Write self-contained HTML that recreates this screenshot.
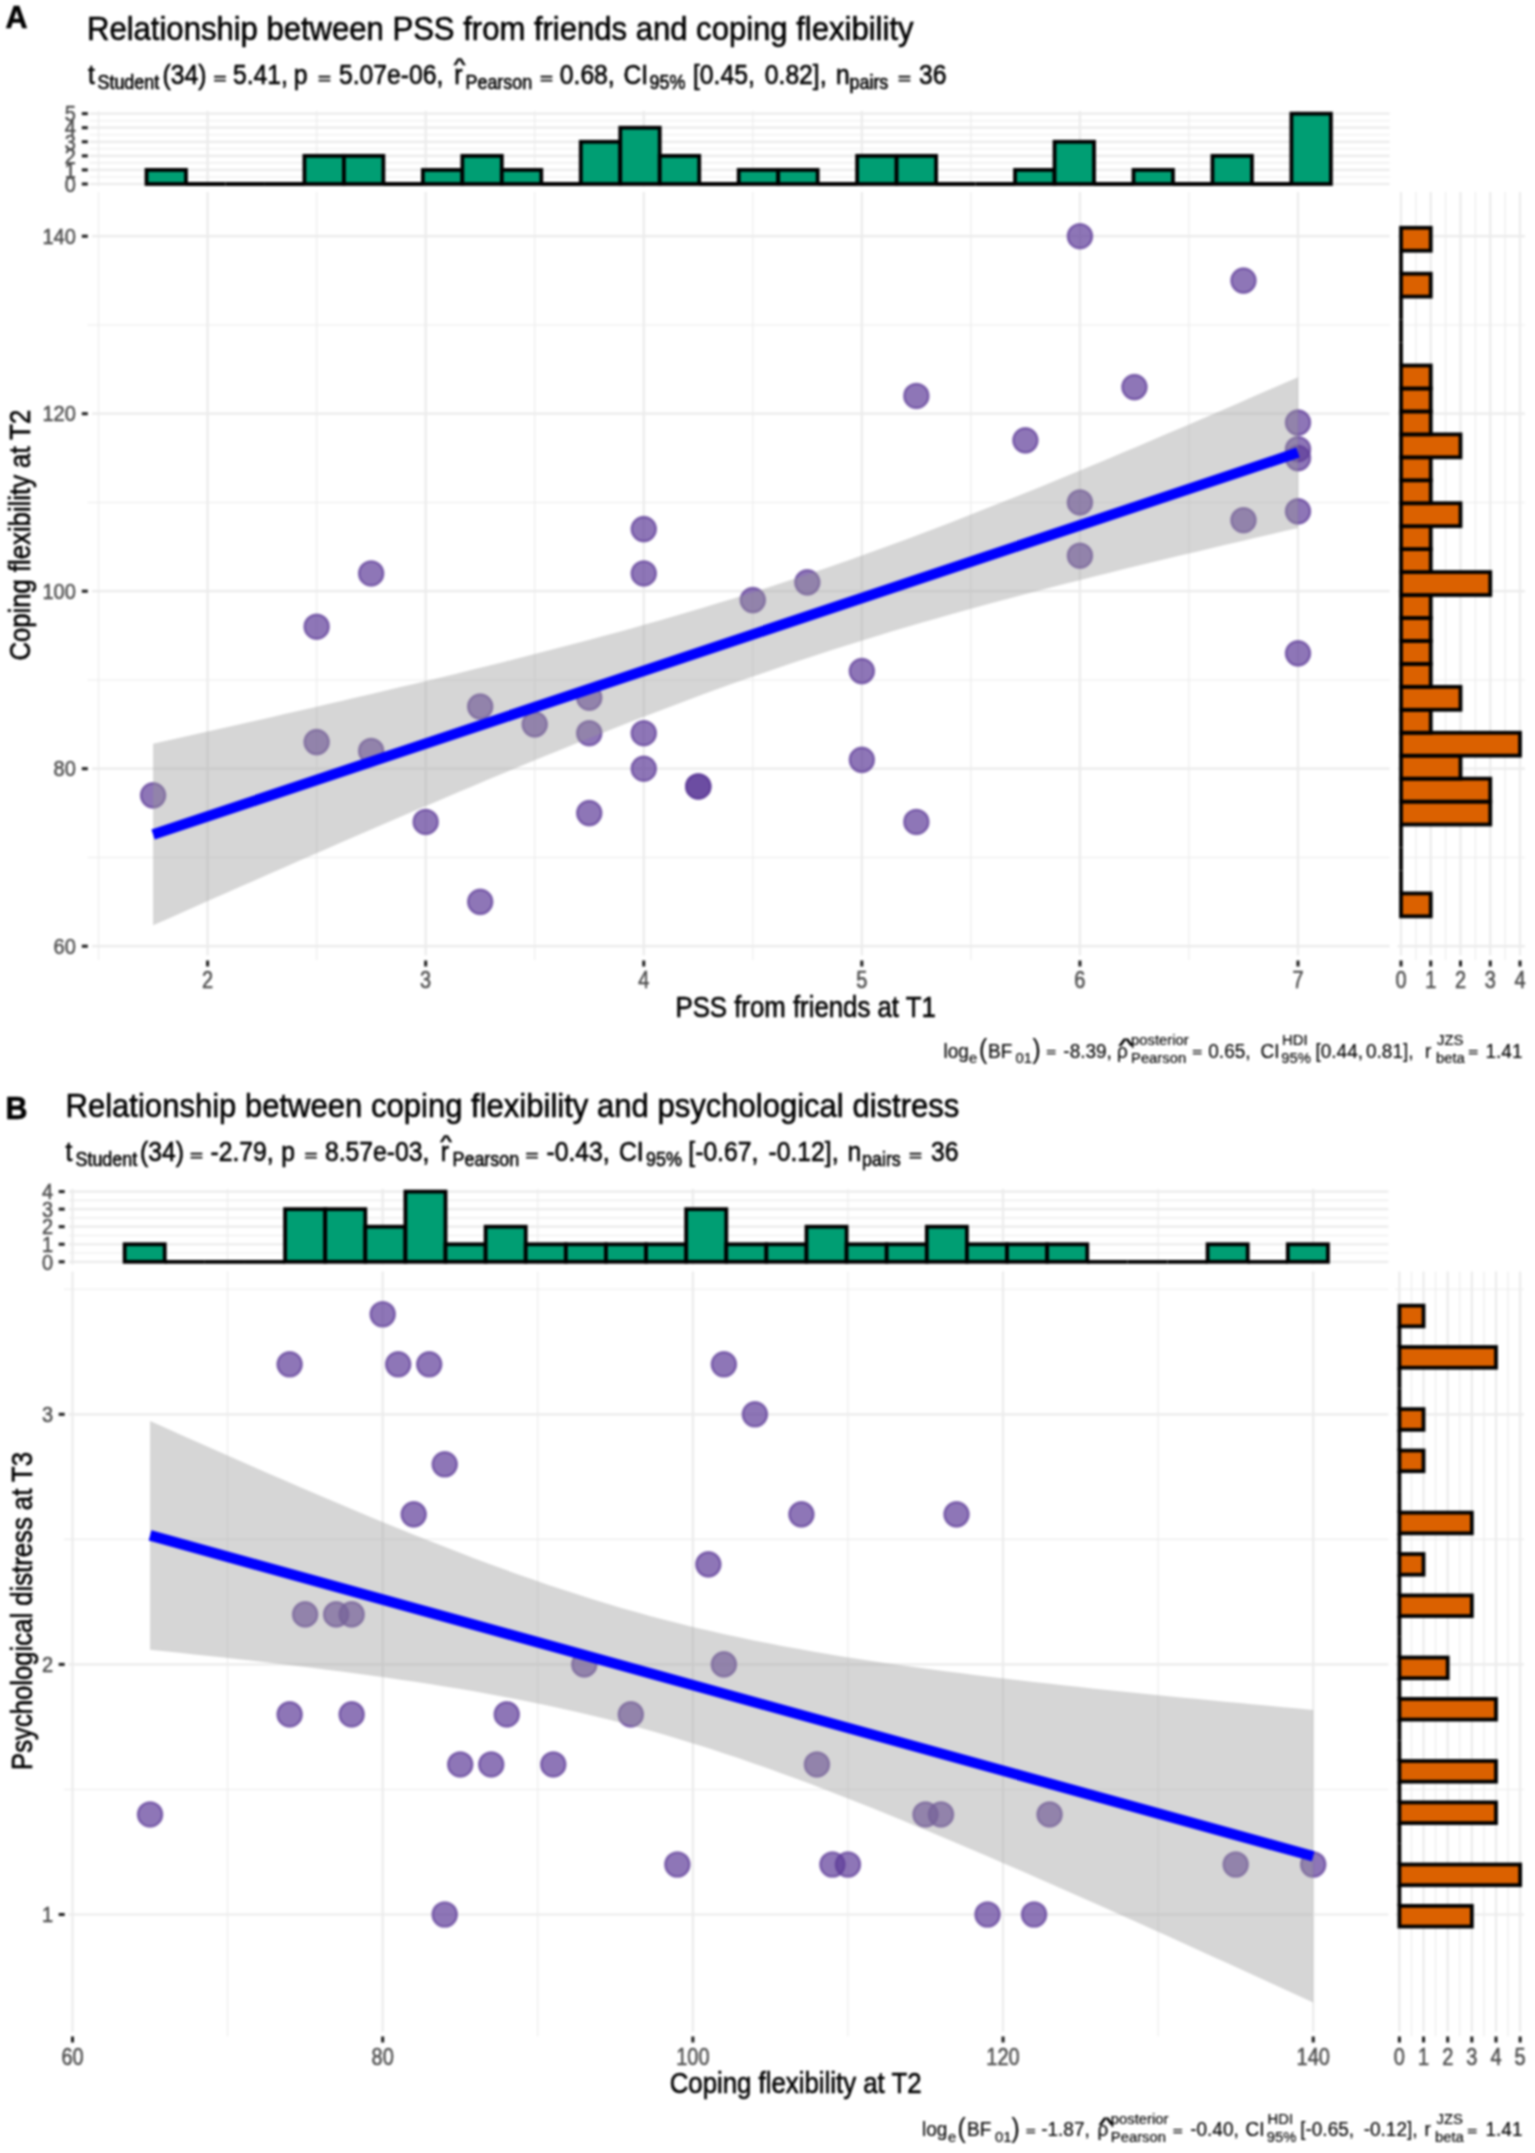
<!DOCTYPE html>
<html lang="en"><head><meta charset="utf-8"><title>Figure</title>
<style>html,body{margin:0;padding:0;background:#fff}#wrap{width:1535px;height:2153px;overflow:hidden;filter:blur(1px)}svg{display:block}text{font-family:"Liberation Sans", Arial, Helvetica, sans-serif}</style>
</head><body>
<div id="wrap"><svg width="1535" height="2153" viewBox="0 0 1535 2153">
<rect width="1535" height="2153" fill="#fff"/>
<g id="fig">
<g stroke="#ebebeb" fill="none">
<line x1="89.5" x2="1389.7" y1="184" y2="184" stroke-width="2.2"/>
<line x1="89.5" x2="1389.7" y1="176.97" y2="176.97" stroke-width="1.1"/>
<line x1="89.5" x2="1389.7" y1="169.93" y2="169.93" stroke-width="2.2"/>
<line x1="89.5" x2="1389.7" y1="162.9" y2="162.9" stroke-width="1.1"/>
<line x1="89.5" x2="1389.7" y1="155.86" y2="155.86" stroke-width="2.2"/>
<line x1="89.5" x2="1389.7" y1="148.82" y2="148.82" stroke-width="1.1"/>
<line x1="89.5" x2="1389.7" y1="141.79" y2="141.79" stroke-width="2.2"/>
<line x1="89.5" x2="1389.7" y1="134.75" y2="134.75" stroke-width="1.1"/>
<line x1="89.5" x2="1389.7" y1="127.72" y2="127.72" stroke-width="2.2"/>
<line x1="89.5" x2="1389.7" y1="120.69" y2="120.69" stroke-width="1.1"/>
<line x1="89.5" x2="1389.7" y1="113.65" y2="113.65" stroke-width="2.2"/>
<line x1="98.56" x2="98.56" y1="111" y2="186.6" stroke-width="1.1"/>
<line x1="98.56" x2="98.56" y1="192" y2="960" stroke-width="1.1"/>
<line x1="207.6" x2="207.6" y1="111" y2="186.6" stroke-width="2.2"/>
<line x1="207.6" x2="207.6" y1="192" y2="955.5" stroke-width="2.2"/>
<line x1="316.64" x2="316.64" y1="111" y2="186.6" stroke-width="1.1"/>
<line x1="316.64" x2="316.64" y1="192" y2="960" stroke-width="1.1"/>
<line x1="425.68" x2="425.68" y1="111" y2="186.6" stroke-width="2.2"/>
<line x1="425.68" x2="425.68" y1="192" y2="955.5" stroke-width="2.2"/>
<line x1="534.72" x2="534.72" y1="111" y2="186.6" stroke-width="1.1"/>
<line x1="534.72" x2="534.72" y1="192" y2="960" stroke-width="1.1"/>
<line x1="643.76" x2="643.76" y1="111" y2="186.6" stroke-width="2.2"/>
<line x1="643.76" x2="643.76" y1="192" y2="955.5" stroke-width="2.2"/>
<line x1="752.8" x2="752.8" y1="111" y2="186.6" stroke-width="1.1"/>
<line x1="752.8" x2="752.8" y1="192" y2="960" stroke-width="1.1"/>
<line x1="861.84" x2="861.84" y1="111" y2="186.6" stroke-width="2.2"/>
<line x1="861.84" x2="861.84" y1="192" y2="955.5" stroke-width="2.2"/>
<line x1="970.88" x2="970.88" y1="111" y2="186.6" stroke-width="1.1"/>
<line x1="970.88" x2="970.88" y1="192" y2="960" stroke-width="1.1"/>
<line x1="1079.92" x2="1079.92" y1="111" y2="186.6" stroke-width="2.2"/>
<line x1="1079.92" x2="1079.92" y1="192" y2="955.5" stroke-width="2.2"/>
<line x1="1188.96" x2="1188.96" y1="111" y2="186.6" stroke-width="1.1"/>
<line x1="1188.96" x2="1188.96" y1="192" y2="960" stroke-width="1.1"/>
<line x1="1298" x2="1298" y1="111" y2="186.6" stroke-width="2.2"/>
<line x1="1298" x2="1298" y1="192" y2="955.5" stroke-width="2.2"/>
<line x1="92" x2="1389.7" y1="946.2" y2="946.2" stroke-width="2.2"/>
<line x1="1397.5" x2="1525" y1="946.2" y2="946.2" stroke-width="2.2"/>
<line x1="87.5" x2="1389.7" y1="857.45" y2="857.45" stroke-width="1.1"/>
<line x1="1397.5" x2="1525" y1="857.45" y2="857.45" stroke-width="1.1"/>
<line x1="92" x2="1389.7" y1="768.7" y2="768.7" stroke-width="2.2"/>
<line x1="1397.5" x2="1525" y1="768.7" y2="768.7" stroke-width="2.2"/>
<line x1="87.5" x2="1389.7" y1="679.95" y2="679.95" stroke-width="1.1"/>
<line x1="1397.5" x2="1525" y1="679.95" y2="679.95" stroke-width="1.1"/>
<line x1="92" x2="1389.7" y1="591.2" y2="591.2" stroke-width="2.2"/>
<line x1="1397.5" x2="1525" y1="591.2" y2="591.2" stroke-width="2.2"/>
<line x1="87.5" x2="1389.7" y1="502.45" y2="502.45" stroke-width="1.1"/>
<line x1="1397.5" x2="1525" y1="502.45" y2="502.45" stroke-width="1.1"/>
<line x1="92" x2="1389.7" y1="413.7" y2="413.7" stroke-width="2.2"/>
<line x1="1397.5" x2="1525" y1="413.7" y2="413.7" stroke-width="2.2"/>
<line x1="87.5" x2="1389.7" y1="324.95" y2="324.95" stroke-width="1.1"/>
<line x1="1397.5" x2="1525" y1="324.95" y2="324.95" stroke-width="1.1"/>
<line x1="92" x2="1389.7" y1="236.2" y2="236.2" stroke-width="2.2"/>
<line x1="1397.5" x2="1525" y1="236.2" y2="236.2" stroke-width="2.2"/>
<line x1="1401" x2="1401" y1="192" y2="955.5" stroke-width="2.2"/>
<line x1="1415.88" x2="1415.88" y1="192" y2="960" stroke-width="1.1"/>
<line x1="1430.75" x2="1430.75" y1="192" y2="955.5" stroke-width="2.2"/>
<line x1="1445.62" x2="1445.62" y1="192" y2="960" stroke-width="1.1"/>
<line x1="1460.5" x2="1460.5" y1="192" y2="955.5" stroke-width="2.2"/>
<line x1="1475.38" x2="1475.38" y1="192" y2="960" stroke-width="1.1"/>
<line x1="1490.25" x2="1490.25" y1="192" y2="955.5" stroke-width="2.2"/>
<line x1="1505.12" x2="1505.12" y1="192" y2="960" stroke-width="1.1"/>
<line x1="1520" x2="1520" y1="192" y2="955.5" stroke-width="2.2"/>
</g>
<g fill="#5E3C99" fill-opacity="0.7" stroke="#5E3C99" stroke-opacity="0.7" stroke-width="2.4">
<circle cx="153.08" cy="795.33" r="12.1"/>
<circle cx="316.64" cy="626.7" r="12.1"/>
<circle cx="316.64" cy="742.08" r="12.1"/>
<circle cx="371.16" cy="573.45" r="12.1"/>
<circle cx="371.16" cy="750.95" r="12.1"/>
<circle cx="425.68" cy="821.95" r="12.1"/>
<circle cx="480.2" cy="706.58" r="12.1"/>
<circle cx="480.2" cy="901.83" r="12.1"/>
<circle cx="534.72" cy="724.33" r="12.1"/>
<circle cx="589.24" cy="697.7" r="12.1"/>
<circle cx="589.24" cy="733.2" r="12.1"/>
<circle cx="589.24" cy="813.08" r="12.1"/>
<circle cx="643.76" cy="529.08" r="12.1"/>
<circle cx="643.76" cy="573.45" r="12.1"/>
<circle cx="643.76" cy="733.2" r="12.1"/>
<circle cx="643.76" cy="768.7" r="12.1"/>
<circle cx="698.28" cy="786.45" r="12.1"/>
<circle cx="698.28" cy="786.45" r="12.1"/>
<circle cx="752.8" cy="600.08" r="12.1"/>
<circle cx="807.32" cy="582.33" r="12.1"/>
<circle cx="861.84" cy="671.08" r="12.1"/>
<circle cx="861.84" cy="759.83" r="12.1"/>
<circle cx="916.36" cy="395.95" r="12.1"/>
<circle cx="916.36" cy="821.95" r="12.1"/>
<circle cx="1025.4" cy="440.33" r="12.1"/>
<circle cx="1079.92" cy="236.2" r="12.1"/>
<circle cx="1079.92" cy="502.45" r="12.1"/>
<circle cx="1079.92" cy="555.7" r="12.1"/>
<circle cx="1134.44" cy="387.08" r="12.1"/>
<circle cx="1243.48" cy="280.58" r="12.1"/>
<circle cx="1243.48" cy="520.2" r="12.1"/>
<circle cx="1298" cy="422.58" r="12.1"/>
<circle cx="1298" cy="449.2" r="12.1"/>
<circle cx="1298" cy="458.08" r="12.1"/>
<circle cx="1298" cy="511.33" r="12.1"/>
<circle cx="1298" cy="653.33" r="12.1"/>
</g>
<polygon points="153.08,743.68 167.57,740.46 182.07,737.22 196.56,733.98 211.05,730.73 225.54,727.47 240.04,724.2 254.53,720.92 269.02,717.63 283.51,714.32 298.01,711.01 312.5,707.68 326.99,704.33 341.48,700.97 355.98,697.59 370.47,694.2 384.96,690.79 399.46,687.36 413.95,683.9 428.44,680.43 442.93,676.93 457.43,673.4 471.92,669.85 486.41,666.27 500.9,662.66 515.4,659.02 529.89,655.34 544.38,651.62 558.87,647.86 573.37,644.06 587.86,640.22 602.35,636.32 616.85,632.38 631.34,628.38 645.83,624.32 660.32,620.21 674.82,616.03 689.31,611.79 703.8,607.48 718.29,603.09 732.79,598.64 747.28,594.11 761.77,589.5 776.26,584.82 790.76,580.06 805.25,575.22 819.74,570.29 834.23,565.3 848.73,560.22 863.22,555.07 877.71,549.84 892.21,544.54 906.7,539.17 921.19,533.73 935.68,528.23 950.18,522.66 964.67,517.04 979.16,511.36 993.65,505.62 1008.15,499.84 1022.64,494 1037.13,488.13 1051.62,482.21 1066.12,476.25 1080.61,470.25 1095.1,464.22 1109.6,458.16 1124.09,452.07 1138.58,445.94 1153.07,439.79 1167.57,433.62 1182.06,427.42 1196.55,421.2 1211.04,414.96 1225.54,408.7 1240.03,402.42 1254.52,396.12 1269.01,389.81 1283.51,383.48 1298,377.14 1298,528 1283.51,531.33 1269.01,534.67 1254.52,538.03 1240.03,541.4 1225.54,544.79 1211.04,548.2 1196.55,551.63 1182.06,555.08 1167.57,558.55 1153.07,562.04 1138.58,565.56 1124.09,569.11 1109.6,572.69 1095.1,576.29 1080.61,579.93 1066.12,583.6 1051.62,587.31 1037.13,591.06 1022.64,594.86 1008.15,598.69 993.65,602.58 979.16,606.51 964.67,610.5 950.18,614.55 935.68,618.65 921.19,622.82 906.7,627.05 892.21,631.35 877.71,635.72 863.22,640.16 848.73,644.68 834.23,649.27 819.74,653.94 805.25,658.69 790.76,663.51 776.26,668.42 761.77,673.41 747.28,678.47 732.79,683.61 718.29,688.82 703.8,694.11 689.31,699.47 674.82,704.9 660.32,710.39 645.83,715.94 631.34,721.56 616.85,727.23 602.35,732.95 587.86,738.73 573.37,744.55 558.87,750.42 544.38,756.33 529.89,762.29 515.4,768.27 500.9,774.3 486.41,780.36 471.92,786.45 457.43,792.56 442.93,798.71 428.44,804.88 413.95,811.07 399.46,817.29 384.96,823.53 370.47,829.78 355.98,836.06 341.48,842.35 326.99,848.66 312.5,854.99 298.01,861.33 283.51,867.68 269.02,874.04 254.53,880.42 240.04,886.81 225.54,893.21 211.05,899.62 196.56,906.04 182.07,912.46 167.57,918.9 153.08,925.35" fill="#999999" fill-opacity="0.4"/>
<line x1="153.08" y1="834.51" x2="1298" y2="452.57" stroke="#0000FF" stroke-width="10.5"/>
<g fill="#009E73" stroke="#000" stroke-width="3.8" stroke-linejoin="miter">
<rect x="146.5" y="169.93" width="39.48" height="14.07"/>
<line x1="185.98" x2="225.46" y1="184" y2="184"/>
<line x1="225.46" x2="264.94" y1="184" y2="184"/>
<line x1="264.94" x2="304.42" y1="184" y2="184"/>
<rect x="304.42" y="155.86" width="39.48" height="28.14"/>
<rect x="343.9" y="155.86" width="39.48" height="28.14"/>
<line x1="383.38" x2="422.86" y1="184" y2="184"/>
<rect x="422.86" y="169.93" width="39.48" height="14.07"/>
<rect x="462.34" y="155.86" width="39.48" height="28.14"/>
<rect x="501.82" y="169.93" width="39.48" height="14.07"/>
<line x1="541.3" x2="580.78" y1="184" y2="184"/>
<rect x="580.78" y="141.79" width="39.48" height="42.21"/>
<rect x="620.26" y="127.72" width="39.48" height="56.28"/>
<rect x="659.74" y="155.86" width="39.48" height="28.14"/>
<line x1="699.22" x2="738.7" y1="184" y2="184"/>
<rect x="738.7" y="169.93" width="39.48" height="14.07"/>
<rect x="778.18" y="169.93" width="39.48" height="14.07"/>
<line x1="817.66" x2="857.14" y1="184" y2="184"/>
<rect x="857.14" y="155.86" width="39.48" height="28.14"/>
<rect x="896.62" y="155.86" width="39.48" height="28.14"/>
<line x1="936.1" x2="975.58" y1="184" y2="184"/>
<line x1="975.58" x2="1015.06" y1="184" y2="184"/>
<rect x="1015.06" y="169.93" width="39.48" height="14.07"/>
<rect x="1054.54" y="141.79" width="39.48" height="42.21"/>
<line x1="1094.02" x2="1133.5" y1="184" y2="184"/>
<rect x="1133.5" y="169.93" width="39.48" height="14.07"/>
<line x1="1172.98" x2="1212.46" y1="184" y2="184"/>
<rect x="1212.46" y="155.86" width="39.48" height="28.14"/>
<line x1="1251.94" x2="1291.42" y1="184" y2="184"/>
<rect x="1291.42" y="113.65" width="39.48" height="70.35"/>
</g>
<g fill="#DB6100" stroke="#000" stroke-width="3.8" stroke-linejoin="miter">
<rect x="1401" y="893.41" width="29.75" height="22.95"/>
<line x1="1401" x2="1401" y1="870.46" y2="893.41"/>
<line x1="1401" x2="1401" y1="847.5" y2="870.46"/>
<line x1="1401" x2="1401" y1="824.55" y2="847.5"/>
<rect x="1401" y="801.6" width="89.25" height="22.95"/>
<rect x="1401" y="778.65" width="89.25" height="22.95"/>
<rect x="1401" y="755.69" width="59.5" height="22.95"/>
<rect x="1401" y="732.74" width="119" height="22.95"/>
<rect x="1401" y="709.79" width="29.75" height="22.95"/>
<rect x="1401" y="686.84" width="59.5" height="22.95"/>
<rect x="1401" y="663.88" width="29.75" height="22.95"/>
<rect x="1401" y="640.93" width="29.75" height="22.95"/>
<rect x="1401" y="617.98" width="29.75" height="22.95"/>
<rect x="1401" y="595.03" width="29.75" height="22.95"/>
<rect x="1401" y="572.07" width="89.25" height="22.95"/>
<rect x="1401" y="549.12" width="29.75" height="22.95"/>
<rect x="1401" y="526.17" width="29.75" height="22.95"/>
<rect x="1401" y="503.22" width="59.5" height="22.95"/>
<rect x="1401" y="480.26" width="29.75" height="22.95"/>
<rect x="1401" y="457.31" width="29.75" height="22.95"/>
<rect x="1401" y="434.36" width="59.5" height="22.95"/>
<rect x="1401" y="411.4" width="29.75" height="22.95"/>
<rect x="1401" y="388.45" width="29.75" height="22.95"/>
<rect x="1401" y="365.5" width="29.75" height="22.95"/>
<line x1="1401" x2="1401" y1="342.55" y2="365.5"/>
<line x1="1401" x2="1401" y1="319.59" y2="342.55"/>
<line x1="1401" x2="1401" y1="296.64" y2="319.59"/>
<rect x="1401" y="273.69" width="29.75" height="22.95"/>
<line x1="1401" x2="1401" y1="250.74" y2="273.69"/>
<rect x="1401" y="227.78" width="29.75" height="22.95"/>
</g>
<g stroke="#1a1a1a" stroke-width="3">
<line x1="81.8" x2="87.8" y1="946.2" y2="946.2"/>
<line x1="81.8" x2="87.8" y1="768.7" y2="768.7"/>
<line x1="81.8" x2="87.8" y1="591.2" y2="591.2"/>
<line x1="81.8" x2="87.8" y1="413.7" y2="413.7"/>
<line x1="81.8" x2="87.8" y1="236.2" y2="236.2"/>
<line x1="81.8" x2="87.8" y1="184" y2="184"/>
<line x1="81.8" x2="87.8" y1="169.93" y2="169.93"/>
<line x1="81.8" x2="87.8" y1="155.86" y2="155.86"/>
<line x1="81.8" x2="87.8" y1="141.79" y2="141.79"/>
<line x1="81.8" x2="87.8" y1="127.72" y2="127.72"/>
<line x1="81.8" x2="87.8" y1="113.65" y2="113.65"/>
<line x1="207.6" x2="207.6" y1="960.5" y2="966.5"/>
<line x1="425.68" x2="425.68" y1="960.5" y2="966.5"/>
<line x1="643.76" x2="643.76" y1="960.5" y2="966.5"/>
<line x1="861.84" x2="861.84" y1="960.5" y2="966.5"/>
<line x1="1079.92" x2="1079.92" y1="960.5" y2="966.5"/>
<line x1="1298" x2="1298" y1="960.5" y2="966.5"/>
<line x1="1401" x2="1401" y1="960.5" y2="966.5"/>
<line x1="1430.75" x2="1430.75" y1="960.5" y2="966.5"/>
<line x1="1460.5" x2="1460.5" y1="960.5" y2="966.5"/>
<line x1="1490.25" x2="1490.25" y1="960.5" y2="966.5"/>
<line x1="1520" x2="1520" y1="960.5" y2="966.5"/>
</g>
<g fill="#4d4d4d" stroke="#4d4d4d" stroke-width="0.45" font-size="20">
<text transform="translate(75.8,953.93) scale(1,1.12)" text-anchor="end">60</text>
<text transform="translate(75.8,776.43) scale(1,1.12)" text-anchor="end">80</text>
<text transform="translate(75.8,598.93) scale(1,1.12)" text-anchor="end">100</text>
<text transform="translate(75.8,421.43) scale(1,1.12)" text-anchor="end">120</text>
<text transform="translate(75.8,243.93) scale(1,1.12)" text-anchor="end">140</text>
<text transform="translate(75.8,191.73) scale(1,1.12)" text-anchor="end">0</text>
<text transform="translate(75.8,177.66) scale(1,1.12)" text-anchor="end">1</text>
<text transform="translate(75.8,163.59) scale(1,1.12)" text-anchor="end">2</text>
<text transform="translate(75.8,149.52) scale(1,1.12)" text-anchor="end">3</text>
<text transform="translate(75.8,135.45) scale(1,1.12)" text-anchor="end">4</text>
<text transform="translate(75.8,121.38) scale(1,1.12)" text-anchor="end">5</text>
<text transform="translate(207.6,988) scale(1,1.18)" text-anchor="middle">2</text>
<text transform="translate(425.68,988) scale(1,1.18)" text-anchor="middle">3</text>
<text transform="translate(643.76,988) scale(1,1.18)" text-anchor="middle">4</text>
<text transform="translate(861.84,988) scale(1,1.18)" text-anchor="middle">5</text>
<text transform="translate(1079.92,988) scale(1,1.18)" text-anchor="middle">6</text>
<text transform="translate(1298,988) scale(1,1.18)" text-anchor="middle">7</text>
<text transform="translate(1401,988) scale(1,1.18)" text-anchor="middle">0</text>
<text transform="translate(1430.75,988) scale(1,1.18)" text-anchor="middle">1</text>
<text transform="translate(1460.5,988) scale(1,1.18)" text-anchor="middle">2</text>
<text transform="translate(1490.25,988) scale(1,1.18)" text-anchor="middle">3</text>
<text transform="translate(1520,988) scale(1,1.18)" text-anchor="middle">4</text>
</g>
<g stroke="#ebebeb" fill="none">
<line x1="69" x2="1388.4" y1="1261.8" y2="1261.8" stroke-width="2.2"/>
<line x1="69" x2="1388.4" y1="1253.02" y2="1253.02" stroke-width="1.1"/>
<line x1="69" x2="1388.4" y1="1244.25" y2="1244.25" stroke-width="2.2"/>
<line x1="69" x2="1388.4" y1="1235.47" y2="1235.47" stroke-width="1.1"/>
<line x1="69" x2="1388.4" y1="1226.7" y2="1226.7" stroke-width="2.2"/>
<line x1="69" x2="1388.4" y1="1217.92" y2="1217.92" stroke-width="1.1"/>
<line x1="69" x2="1388.4" y1="1209.15" y2="1209.15" stroke-width="2.2"/>
<line x1="69" x2="1388.4" y1="1200.38" y2="1200.38" stroke-width="1.1"/>
<line x1="69" x2="1388.4" y1="1191.6" y2="1191.6" stroke-width="2.2"/>
<line x1="72.5" x2="72.5" y1="1188.9" y2="1264.5" stroke-width="2.2"/>
<line x1="72.5" x2="72.5" y1="1271.5" y2="2031.8" stroke-width="2.2"/>
<line x1="227.59" x2="227.59" y1="1188.9" y2="1264.5" stroke-width="1.1"/>
<line x1="227.59" x2="227.59" y1="1271.5" y2="2036.3" stroke-width="1.1"/>
<line x1="382.68" x2="382.68" y1="1188.9" y2="1264.5" stroke-width="2.2"/>
<line x1="382.68" x2="382.68" y1="1271.5" y2="2031.8" stroke-width="2.2"/>
<line x1="537.77" x2="537.77" y1="1188.9" y2="1264.5" stroke-width="1.1"/>
<line x1="537.77" x2="537.77" y1="1271.5" y2="2036.3" stroke-width="1.1"/>
<line x1="692.86" x2="692.86" y1="1188.9" y2="1264.5" stroke-width="2.2"/>
<line x1="692.86" x2="692.86" y1="1271.5" y2="2031.8" stroke-width="2.2"/>
<line x1="847.95" x2="847.95" y1="1188.9" y2="1264.5" stroke-width="1.1"/>
<line x1="847.95" x2="847.95" y1="1271.5" y2="2036.3" stroke-width="1.1"/>
<line x1="1003.04" x2="1003.04" y1="1188.9" y2="1264.5" stroke-width="2.2"/>
<line x1="1003.04" x2="1003.04" y1="1271.5" y2="2031.8" stroke-width="2.2"/>
<line x1="1158.13" x2="1158.13" y1="1188.9" y2="1264.5" stroke-width="1.1"/>
<line x1="1158.13" x2="1158.13" y1="1271.5" y2="2036.3" stroke-width="1.1"/>
<line x1="1313.22" x2="1313.22" y1="1188.9" y2="1264.5" stroke-width="2.2"/>
<line x1="1313.22" x2="1313.22" y1="1271.5" y2="2031.8" stroke-width="2.2"/>
<line x1="68.5" x2="1388.4" y1="1914.5" y2="1914.5" stroke-width="2.2"/>
<line x1="1395" x2="1524" y1="1914.5" y2="1914.5" stroke-width="2.2"/>
<line x1="64" x2="1388.4" y1="1789.45" y2="1789.45" stroke-width="1.1"/>
<line x1="1395" x2="1524" y1="1789.45" y2="1789.45" stroke-width="1.1"/>
<line x1="68.5" x2="1388.4" y1="1664.4" y2="1664.4" stroke-width="2.2"/>
<line x1="1395" x2="1524" y1="1664.4" y2="1664.4" stroke-width="2.2"/>
<line x1="64" x2="1388.4" y1="1539.35" y2="1539.35" stroke-width="1.1"/>
<line x1="1395" x2="1524" y1="1539.35" y2="1539.35" stroke-width="1.1"/>
<line x1="68.5" x2="1388.4" y1="1414.3" y2="1414.3" stroke-width="2.2"/>
<line x1="1395" x2="1524" y1="1414.3" y2="1414.3" stroke-width="2.2"/>
<line x1="64" x2="1388.4" y1="1289.25" y2="1289.25" stroke-width="1.1"/>
<line x1="1395" x2="1524" y1="1289.25" y2="1289.25" stroke-width="1.1"/>
<line x1="1399.4" x2="1399.4" y1="1271.5" y2="2031.8" stroke-width="2.2"/>
<line x1="1411.48" x2="1411.48" y1="1271.5" y2="2036.3" stroke-width="1.1"/>
<line x1="1423.55" x2="1423.55" y1="1271.5" y2="2031.8" stroke-width="2.2"/>
<line x1="1435.62" x2="1435.62" y1="1271.5" y2="2036.3" stroke-width="1.1"/>
<line x1="1447.7" x2="1447.7" y1="1271.5" y2="2031.8" stroke-width="2.2"/>
<line x1="1459.78" x2="1459.78" y1="1271.5" y2="2036.3" stroke-width="1.1"/>
<line x1="1471.85" x2="1471.85" y1="1271.5" y2="2031.8" stroke-width="2.2"/>
<line x1="1483.93" x2="1483.93" y1="1271.5" y2="2036.3" stroke-width="1.1"/>
<line x1="1496" x2="1496" y1="1271.5" y2="2031.8" stroke-width="2.2"/>
<line x1="1508.08" x2="1508.08" y1="1271.5" y2="2036.3" stroke-width="1.1"/>
<line x1="1520.15" x2="1520.15" y1="1271.5" y2="2031.8" stroke-width="2.2"/>
</g>
<g fill="#5E3C99" fill-opacity="0.7" stroke="#5E3C99" stroke-opacity="0.7" stroke-width="2.4">
<circle cx="150.05" cy="1814.46" r="12.1"/>
<circle cx="289.63" cy="1364.28" r="12.1"/>
<circle cx="289.63" cy="1714.42" r="12.1"/>
<circle cx="305.13" cy="1614.38" r="12.1"/>
<circle cx="336.15" cy="1614.38" r="12.1"/>
<circle cx="351.66" cy="1614.38" r="12.1"/>
<circle cx="351.66" cy="1714.42" r="12.1"/>
<circle cx="382.68" cy="1314.26" r="12.1"/>
<circle cx="398.19" cy="1364.28" r="12.1"/>
<circle cx="413.7" cy="1514.34" r="12.1"/>
<circle cx="429.21" cy="1364.28" r="12.1"/>
<circle cx="444.72" cy="1464.32" r="12.1"/>
<circle cx="444.72" cy="1914.5" r="12.1"/>
<circle cx="460.23" cy="1764.44" r="12.1"/>
<circle cx="491.24" cy="1764.44" r="12.1"/>
<circle cx="506.75" cy="1714.42" r="12.1"/>
<circle cx="553.28" cy="1764.44" r="12.1"/>
<circle cx="584.3" cy="1664.4" r="12.1"/>
<circle cx="630.82" cy="1714.42" r="12.1"/>
<circle cx="677.35" cy="1864.48" r="12.1"/>
<circle cx="708.37" cy="1564.36" r="12.1"/>
<circle cx="723.88" cy="1364.28" r="12.1"/>
<circle cx="723.88" cy="1664.4" r="12.1"/>
<circle cx="754.9" cy="1414.3" r="12.1"/>
<circle cx="801.42" cy="1514.34" r="12.1"/>
<circle cx="816.93" cy="1764.44" r="12.1"/>
<circle cx="832.44" cy="1864.48" r="12.1"/>
<circle cx="847.95" cy="1864.48" r="12.1"/>
<circle cx="925.5" cy="1814.46" r="12.1"/>
<circle cx="941" cy="1814.46" r="12.1"/>
<circle cx="956.51" cy="1514.34" r="12.1"/>
<circle cx="987.53" cy="1914.5" r="12.1"/>
<circle cx="1034.06" cy="1914.5" r="12.1"/>
<circle cx="1049.57" cy="1814.46" r="12.1"/>
<circle cx="1235.67" cy="1864.48" r="12.1"/>
<circle cx="1313.22" cy="1864.48" r="12.1"/>
</g>
<polygon points="150.05,1420.99 164.77,1427.6 179.49,1434.19 194.22,1440.76 208.94,1447.31 223.66,1453.83 238.39,1460.32 253.11,1466.79 267.83,1473.22 282.56,1479.62 297.28,1485.98 312.01,1492.3 326.73,1498.58 341.45,1504.81 356.18,1511 370.9,1517.13 385.62,1523.2 400.35,1529.21 415.07,1535.15 429.8,1541.02 444.52,1546.82 459.24,1552.52 473.97,1558.14 488.69,1563.66 503.41,1569.07 518.14,1574.38 532.86,1579.56 547.59,1584.63 562.31,1589.56 577.03,1594.36 591.76,1599.01 606.48,1603.52 621.2,1607.88 635.93,1612.09 650.65,1616.15 665.38,1620.05 680.1,1623.81 694.82,1627.41 709.55,1630.87 724.27,1634.19 738.99,1637.37 753.72,1640.43 768.44,1643.36 783.17,1646.17 797.89,1648.87 812.61,1651.47 827.34,1653.97 842.06,1656.39 856.78,1658.71 871.51,1660.96 886.23,1663.14 900.96,1665.25 915.68,1667.3 930.4,1669.28 945.13,1671.22 959.85,1673.11 974.57,1674.95 989.3,1676.75 1004.02,1678.51 1018.75,1680.23 1033.47,1681.92 1048.19,1683.58 1062.92,1685.2 1077.64,1686.81 1092.36,1688.38 1107.09,1689.94 1121.81,1691.47 1136.54,1692.98 1151.26,1694.47 1165.98,1695.94 1180.71,1697.4 1195.43,1698.84 1210.15,1700.26 1224.88,1701.68 1239.6,1703.08 1254.33,1704.46 1269.05,1705.84 1283.77,1707.2 1298.5,1708.56 1313.22,1709.9 1313.22,2002.62 1298.5,1995.84 1283.77,1989.07 1269.05,1982.31 1254.33,1975.56 1239.6,1968.83 1224.88,1962.1 1210.15,1955.39 1195.43,1948.7 1180.71,1942.01 1165.98,1935.35 1151.26,1928.7 1136.54,1922.07 1121.81,1915.45 1107.09,1908.86 1092.36,1902.29 1077.64,1895.74 1062.92,1889.22 1048.19,1882.73 1033.47,1876.26 1018.75,1869.83 1004.02,1863.43 989.3,1857.06 974.57,1850.74 959.85,1844.46 945.13,1838.22 930.4,1832.03 915.68,1825.9 900.96,1819.82 886.23,1813.81 871.51,1807.86 856.78,1801.99 842.06,1796.19 827.34,1790.48 812.61,1784.86 797.89,1779.34 783.17,1773.92 768.44,1768.61 753.72,1763.41 738.99,1758.34 724.27,1753.4 709.55,1748.6 694.82,1743.94 680.1,1739.42 665.38,1735.05 650.65,1730.83 635.93,1726.76 621.2,1722.85 606.48,1719.09 591.76,1715.48 577.03,1712.01 562.31,1708.68 547.59,1705.49 532.86,1702.43 518.14,1699.49 503.41,1696.67 488.69,1693.97 473.97,1691.36 459.24,1688.85 444.52,1686.44 429.8,1684.11 415.07,1681.85 400.35,1679.67 385.62,1677.56 370.9,1675.51 356.18,1673.52 341.45,1671.58 326.73,1669.69 312.01,1667.85 297.28,1666.05 282.56,1664.28 267.83,1662.56 253.11,1660.87 238.39,1659.21 223.66,1657.58 208.94,1655.98 194.22,1654.4 179.49,1652.84 164.77,1651.31 150.05,1649.8" fill="#999999" fill-opacity="0.4"/>
<line x1="150.05" y1="1535.4" x2="1313.22" y2="1856.26" stroke="#0000FF" stroke-width="10.5"/>
<g fill="#009E73" stroke="#000" stroke-width="3.8" stroke-linejoin="miter">
<rect x="124.64" y="1244.25" width="40.11" height="17.55"/>
<line x1="164.75" x2="204.86" y1="1261.8" y2="1261.8"/>
<line x1="204.86" x2="244.97" y1="1261.8" y2="1261.8"/>
<line x1="244.97" x2="285.08" y1="1261.8" y2="1261.8"/>
<rect x="285.08" y="1209.15" width="40.11" height="52.65"/>
<rect x="325.19" y="1209.15" width="40.11" height="52.65"/>
<rect x="365.3" y="1226.7" width="40.11" height="35.1"/>
<rect x="405.41" y="1191.6" width="40.11" height="70.2"/>
<rect x="445.52" y="1244.25" width="40.11" height="17.55"/>
<rect x="485.63" y="1226.7" width="40.11" height="35.1"/>
<rect x="525.74" y="1244.25" width="40.11" height="17.55"/>
<rect x="565.85" y="1244.25" width="40.11" height="17.55"/>
<rect x="605.96" y="1244.25" width="40.11" height="17.55"/>
<rect x="646.07" y="1244.25" width="40.11" height="17.55"/>
<rect x="686.18" y="1209.15" width="40.11" height="52.65"/>
<rect x="726.28" y="1244.25" width="40.11" height="17.55"/>
<rect x="766.39" y="1244.25" width="40.11" height="17.55"/>
<rect x="806.5" y="1226.7" width="40.11" height="35.1"/>
<rect x="846.61" y="1244.25" width="40.11" height="17.55"/>
<rect x="886.72" y="1244.25" width="40.11" height="17.55"/>
<rect x="926.83" y="1226.7" width="40.11" height="35.1"/>
<rect x="966.94" y="1244.25" width="40.11" height="17.55"/>
<rect x="1007.05" y="1244.25" width="40.11" height="17.55"/>
<rect x="1047.16" y="1244.25" width="40.11" height="17.55"/>
<line x1="1087.27" x2="1127.38" y1="1261.8" y2="1261.8"/>
<line x1="1127.38" x2="1167.49" y1="1261.8" y2="1261.8"/>
<line x1="1167.49" x2="1207.6" y1="1261.8" y2="1261.8"/>
<rect x="1207.6" y="1244.25" width="40.11" height="17.55"/>
<line x1="1247.71" x2="1287.82" y1="1261.8" y2="1261.8"/>
<rect x="1287.82" y="1244.25" width="40.11" height="17.55"/>
</g>
<g fill="#DB6100" stroke="#000" stroke-width="3.8" stroke-linejoin="miter">
<rect x="1399.4" y="1905.88" width="72.45" height="20.7"/>
<line x1="1399.4" x2="1399.4" y1="1885.18" y2="1905.88"/>
<rect x="1399.4" y="1864.48" width="120.75" height="20.7"/>
<line x1="1399.4" x2="1399.4" y1="1843.78" y2="1864.48"/>
<line x1="1399.4" x2="1399.4" y1="1823.08" y2="1843.78"/>
<rect x="1399.4" y="1802.39" width="96.6" height="20.7"/>
<line x1="1399.4" x2="1399.4" y1="1781.69" y2="1802.39"/>
<rect x="1399.4" y="1760.99" width="96.6" height="20.7"/>
<line x1="1399.4" x2="1399.4" y1="1740.29" y2="1760.99"/>
<line x1="1399.4" x2="1399.4" y1="1719.59" y2="1740.29"/>
<rect x="1399.4" y="1698.9" width="96.6" height="20.7"/>
<line x1="1399.4" x2="1399.4" y1="1678.2" y2="1698.9"/>
<rect x="1399.4" y="1657.5" width="48.3" height="20.7"/>
<line x1="1399.4" x2="1399.4" y1="1636.8" y2="1657.5"/>
<line x1="1399.4" x2="1399.4" y1="1616.1" y2="1636.8"/>
<rect x="1399.4" y="1595.41" width="72.45" height="20.7"/>
<line x1="1399.4" x2="1399.4" y1="1574.71" y2="1595.41"/>
<rect x="1399.4" y="1554.01" width="24.15" height="20.7"/>
<line x1="1399.4" x2="1399.4" y1="1533.31" y2="1554.01"/>
<rect x="1399.4" y="1512.62" width="72.45" height="20.7"/>
<line x1="1399.4" x2="1399.4" y1="1491.92" y2="1512.62"/>
<line x1="1399.4" x2="1399.4" y1="1471.22" y2="1491.92"/>
<rect x="1399.4" y="1450.52" width="24.15" height="20.7"/>
<line x1="1399.4" x2="1399.4" y1="1429.82" y2="1450.52"/>
<rect x="1399.4" y="1409.13" width="24.15" height="20.7"/>
<line x1="1399.4" x2="1399.4" y1="1388.43" y2="1409.13"/>
<line x1="1399.4" x2="1399.4" y1="1367.73" y2="1388.43"/>
<rect x="1399.4" y="1347.03" width="96.6" height="20.7"/>
<line x1="1399.4" x2="1399.4" y1="1326.33" y2="1347.03"/>
<rect x="1399.4" y="1305.64" width="24.15" height="20.7"/>
</g>
<g stroke="#1a1a1a" stroke-width="3">
<line x1="58.7" x2="64.7" y1="1914.5" y2="1914.5"/>
<line x1="58.7" x2="64.7" y1="1664.4" y2="1664.4"/>
<line x1="58.7" x2="64.7" y1="1414.3" y2="1414.3"/>
<line x1="58.7" x2="64.7" y1="1261.8" y2="1261.8"/>
<line x1="58.7" x2="64.7" y1="1244.25" y2="1244.25"/>
<line x1="58.7" x2="64.7" y1="1226.7" y2="1226.7"/>
<line x1="58.7" x2="64.7" y1="1209.15" y2="1209.15"/>
<line x1="58.7" x2="64.7" y1="1191.6" y2="1191.6"/>
<line x1="72.5" x2="72.5" y1="2036.5" y2="2042.5"/>
<line x1="382.68" x2="382.68" y1="2036.5" y2="2042.5"/>
<line x1="692.86" x2="692.86" y1="2036.5" y2="2042.5"/>
<line x1="1003.04" x2="1003.04" y1="2036.5" y2="2042.5"/>
<line x1="1313.22" x2="1313.22" y1="2036.5" y2="2042.5"/>
<line x1="1399.4" x2="1399.4" y1="2036.5" y2="2042.5"/>
<line x1="1423.55" x2="1423.55" y1="2036.5" y2="2042.5"/>
<line x1="1447.7" x2="1447.7" y1="2036.5" y2="2042.5"/>
<line x1="1471.85" x2="1471.85" y1="2036.5" y2="2042.5"/>
<line x1="1496" x2="1496" y1="2036.5" y2="2042.5"/>
<line x1="1520.15" x2="1520.15" y1="2036.5" y2="2042.5"/>
</g>
<g fill="#4d4d4d" stroke="#4d4d4d" stroke-width="0.45" font-size="20">
<text transform="translate(53.2,1922.23) scale(1,1.12)" text-anchor="end">1</text>
<text transform="translate(53.2,1672.13) scale(1,1.12)" text-anchor="end">2</text>
<text transform="translate(53.2,1422.03) scale(1,1.12)" text-anchor="end">3</text>
<text transform="translate(53.2,1269.53) scale(1,1.12)" text-anchor="end">0</text>
<text transform="translate(53.2,1251.98) scale(1,1.12)" text-anchor="end">1</text>
<text transform="translate(53.2,1234.43) scale(1,1.12)" text-anchor="end">2</text>
<text transform="translate(53.2,1216.88) scale(1,1.12)" text-anchor="end">3</text>
<text transform="translate(53.2,1199.33) scale(1,1.12)" text-anchor="end">4</text>
<text transform="translate(72.5,2065.4) scale(1,1.18)" text-anchor="middle">60</text>
<text transform="translate(382.68,2065.4) scale(1,1.18)" text-anchor="middle">80</text>
<text transform="translate(692.86,2065.4) scale(1,1.18)" text-anchor="middle">100</text>
<text transform="translate(1003.04,2065.4) scale(1,1.18)" text-anchor="middle">120</text>
<text transform="translate(1313.22,2065.4) scale(1,1.18)" text-anchor="middle">140</text>
<text transform="translate(1399.4,2065.4) scale(1,1.18)" text-anchor="middle">0</text>
<text transform="translate(1423.55,2065.4) scale(1,1.18)" text-anchor="middle">1</text>
<text transform="translate(1447.7,2065.4) scale(1,1.18)" text-anchor="middle">2</text>
<text transform="translate(1471.85,2065.4) scale(1,1.18)" text-anchor="middle">3</text>
<text transform="translate(1496,2065.4) scale(1,1.18)" text-anchor="middle">4</text>
<text transform="translate(1520.15,2065.4) scale(1,1.18)" text-anchor="middle">5</text>
</g>
<g fill="#000" stroke="#000" stroke-width="0.55">
<text transform="translate(5.6,27.5) scale(1,1.03)" font-size="30.5" font-weight="bold">A</text>
<text transform="translate(5.6,1118.5) scale(1,1.03)" font-size="30.5" font-weight="bold">B</text>
<text transform="translate(87,40) scale(1,1.05)" font-size="31.06">Relationship between PSS from friends and coping flexibility</text>
<text transform="translate(65.5,1117.4) scale(1,1.05)" font-size="31.06">Relationship between coping flexibility and psychological distress</text>
<text transform="translate(805.6,1016.7) scale(1,1.12)" font-size="25.8" text-anchor="middle">PSS from friends at T1</text>
<text transform="translate(795.6,2092.5) scale(1,1.12)" font-size="25.8" text-anchor="middle">Coping flexibility at T2</text>
<text transform="translate(30,535.2) rotate(-90) scale(1,1.12)" font-size="25.7" text-anchor="middle">Coping flexibility at T2</text>
<text transform="translate(31.8,1611) rotate(-90) scale(1,1.12)" font-size="25.7" text-anchor="middle">Psychological distress at T3</text>
<text transform="translate(88,84.3) scale(1,1.1)" font-size="24.7">t</text>
<text transform="translate(97.5,88.75) scale(1,1.1)" font-size="17.91">Student</text>
<text transform="translate(162.5,84.3) scale(1,1.1)" font-size="24.7">(34)</text>
<text transform="translate(213.61,82.77) scale(1,0.6)" font-size="22.23" font-weight="bold">=</text>
<text transform="translate(233,84.3) scale(1,1.1)" font-size="24.7">5.41,</text>
<text transform="translate(293.8,84.3) scale(1,1.1)" font-size="24.7">p</text>
<text transform="translate(318.11,82.77) scale(1,0.6)" font-size="22.23" font-weight="bold">=</text>
<text transform="translate(339,84.3) scale(1,1.1)" font-size="24.7">5.07e-06,</text>
<text transform="translate(454.2,84.3) scale(1,1.1)" font-size="24.7">r</text>
<text transform="translate(453.26,69.45) scale(1,0.68)" font-size="21.68" font-weight="bold">^</text>
<text transform="translate(465.5,88.75) scale(1,1.1)" font-size="17.91">Pearson</text>
<text transform="translate(540.11,82.77) scale(1,0.6)" font-size="22.23" font-weight="bold">=</text>
<text transform="translate(559.8,84.3) scale(1,1.1)" font-size="24.7">0.68,</text>
<text transform="translate(623.5,84.3) scale(1,1.1)" font-size="24.7">CI</text>
<text transform="translate(649.5,88.75) scale(1,1.1)" font-size="17.91">95%</text>
<text transform="translate(693,84.3) scale(1,1.1)" font-size="24.7">[0.45,</text>
<text transform="translate(764.8,84.3) scale(1,1.1)" font-size="24.7">0.82],</text>
<text transform="translate(836,84.3) scale(1,1.1)" font-size="24.7">n</text>
<text transform="translate(849.5,88.75) scale(1,1.1)" font-size="17.91">pairs</text>
<text transform="translate(898.11,82.77) scale(1,0.6)" font-size="22.23" font-weight="bold">=</text>
<text transform="translate(919,84.3) scale(1,1.1)" font-size="24.7">36</text>
<text transform="translate(65.5,1161.3) scale(1,1.1)" font-size="24.7">t</text>
<text transform="translate(75.5,1165.75) scale(1,1.1)" font-size="17.91">Student</text>
<text transform="translate(140,1161.3) scale(1,1.1)" font-size="24.7">(34)</text>
<text transform="translate(190.11,1159.77) scale(1,0.6)" font-size="22.23" font-weight="bold">=</text>
<text transform="translate(210.5,1161.3) scale(1,1.1)" font-size="24.7">-2.79,</text>
<text transform="translate(281.2,1161.3) scale(1,1.1)" font-size="24.7">p</text>
<text transform="translate(304.61,1159.77) scale(1,0.6)" font-size="22.23" font-weight="bold">=</text>
<text transform="translate(325,1161.3) scale(1,1.1)" font-size="24.7">8.57e-03,</text>
<text transform="translate(440.7,1161.3) scale(1,1.1)" font-size="24.7">r</text>
<text transform="translate(439.76,1146.45) scale(1,0.68)" font-size="21.68" font-weight="bold">^</text>
<text transform="translate(452.5,1165.75) scale(1,1.1)" font-size="17.91">Pearson</text>
<text transform="translate(525.61,1159.77) scale(1,0.6)" font-size="22.23" font-weight="bold">=</text>
<text transform="translate(546.5,1161.3) scale(1,1.1)" font-size="24.7">-0.43,</text>
<text transform="translate(619,1161.3) scale(1,1.1)" font-size="24.7">CI</text>
<text transform="translate(646,1165.75) scale(1,1.1)" font-size="17.91">95%</text>
<text transform="translate(688.3,1161.3) scale(1,1.1)" font-size="24.7">[-0.67,</text>
<text transform="translate(768.5,1161.3) scale(1,1.1)" font-size="24.7">-0.12],</text>
<text transform="translate(847.5,1161.3) scale(1,1.1)" font-size="24.7">n</text>
<text transform="translate(862,1165.75) scale(1,1.1)" font-size="17.91">pairs</text>
<text transform="translate(909.11,1159.77) scale(1,0.6)" font-size="22.23" font-weight="bold">=</text>
<text transform="translate(931,1161.3) scale(1,1.1)" font-size="24.7">36</text>
<g stroke-width="0.15">
<text transform="translate(943.5,1057.5) scale(1,1.1)" font-size="19">log</text>
<text transform="translate(969,1062.72)" font-size="14.82">e</text>
<text transform="translate(979.02,1058) scale(1,1.1)" font-size="24.7">(</text>
<text transform="translate(988,1057.5) scale(1,1.1)" font-size="19">BF</text>
<text transform="translate(1015.5,1062.72)" font-size="14.82">01</text>
<text transform="translate(1032.52,1058) scale(1,1.1)" font-size="24.7">)</text>
<text transform="translate(1046.32,1056.32) scale(1,0.6)" font-size="17.1" font-weight="bold">=</text>
<text transform="translate(1063.3,1057.5) scale(1,1.1)" font-size="19">-8.39,</text>
<text transform="translate(1117,1057.5) scale(1,1.1)" font-size="19">ρ</text>
<text transform="translate(1117.7,1049.7) scale(1,0.57)" font-size="28.04" font-weight="bold">^</text>
<text transform="translate(1131,1062.72)" font-size="14.82">Pearson</text>
<text transform="translate(1131,1045.34)" font-size="14.82">posterior</text>
<text transform="translate(1192.32,1056.32) scale(1,0.6)" font-size="17.1" font-weight="bold">=</text>
<text transform="translate(1208.3,1057.5) scale(1,1.1)" font-size="19">0.65,</text>
<text transform="translate(1260.5,1057.5) scale(1,1.1)" font-size="19">CI</text>
<text transform="translate(1281.3,1062.72)" font-size="14.82">95%</text>
<text transform="translate(1282,1045.34)" font-size="14.82">HDI</text>
<text transform="translate(1315.5,1057.5) scale(1,1.1)" font-size="19">[0.44,</text>
<text transform="translate(1366,1057.5) scale(1,1.1)" font-size="19">0.81],</text>
<text transform="translate(1425,1057.5) scale(1,1.1)" font-size="19">r</text>
<text transform="translate(1436,1062.72)" font-size="14.82">beta</text>
<text transform="translate(1437,1045.34)" font-size="14.82">JZS</text>
<text transform="translate(1468.32,1056.32) scale(1,0.6)" font-size="17.1" font-weight="bold">=</text>
<text transform="translate(1485.5,1057.5) scale(1,1.1)" font-size="19">1.41</text>
</g>
<g stroke-width="0.15">
<text transform="translate(922,2136.4) scale(1,1.1)" font-size="19">log</text>
<text transform="translate(948,2141.62)" font-size="14.82">e</text>
<text transform="translate(957.52,2136.9) scale(1,1.1)" font-size="24.7">(</text>
<text transform="translate(967,2136.4) scale(1,1.1)" font-size="19">BF</text>
<text transform="translate(995,2141.62)" font-size="14.82">01</text>
<text transform="translate(1011.52,2136.9) scale(1,1.1)" font-size="24.7">)</text>
<text transform="translate(1025.82,2135.22) scale(1,0.6)" font-size="17.1" font-weight="bold">=</text>
<text transform="translate(1041.2,2136.4) scale(1,1.1)" font-size="19">-1.87,</text>
<text transform="translate(1097.5,2136.4) scale(1,1.1)" font-size="19">ρ</text>
<text transform="translate(1098,2128.6) scale(1,0.57)" font-size="28.04" font-weight="bold">^</text>
<text transform="translate(1110.8,2141.62)" font-size="14.82">Pearson</text>
<text transform="translate(1110.8,2124.24)" font-size="14.82">posterior</text>
<text transform="translate(1172.82,2135.22) scale(1,0.6)" font-size="17.1" font-weight="bold">=</text>
<text transform="translate(1190.2,2136.4) scale(1,1.1)" font-size="19">-0.40,</text>
<text transform="translate(1245.5,2136.4) scale(1,1.1)" font-size="19">CI</text>
<text transform="translate(1266.8,2141.62)" font-size="14.82">95%</text>
<text transform="translate(1267.5,2124.24)" font-size="14.82">HDI</text>
<text transform="translate(1300.2,2136.4) scale(1,1.1)" font-size="19">[-0.65,</text>
<text transform="translate(1363.7,2136.4) scale(1,1.1)" font-size="19">-0.12],</text>
<text transform="translate(1424.5,2136.4) scale(1,1.1)" font-size="19">r</text>
<text transform="translate(1435,2141.62)" font-size="14.82">beta</text>
<text transform="translate(1436.5,2124.24)" font-size="14.82">JZS</text>
<text transform="translate(1467.32,2135.22) scale(1,0.6)" font-size="17.1" font-weight="bold">=</text>
<text transform="translate(1485.5,2136.4) scale(1,1.1)" font-size="19">1.41</text>
</g>
</g>
</g></svg></div></body></html>
